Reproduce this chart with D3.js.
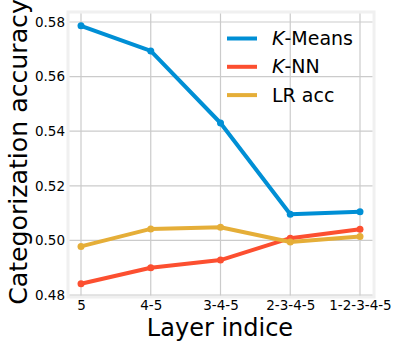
<!DOCTYPE html>
<html><head><meta charset="utf-8">
<script src="https://cdn.jsdelivr.net/npm/d3@7"></script>
<style>body{margin:0;background:#fff}svg{display:block;font-family:"DejaVu Sans",sans-serif}</style>
</head><body><svg id="c" width="398" height="348"></svg>
<script>
const categories = ["5","4-5","3-4-5","2-3-4-5","1-2-3-4-5"];
const kmeans = [0.5786,0.5694,0.5430,0.5096,0.5105];
const knn = [0.4841,0.4900,0.4928,0.5008,0.5041];
const lracc = [0.4978,0.5042,0.5048,0.4994,0.5014];
const yTicks = [0.48,0.50,0.52,0.54,0.56,0.58];
const seriesNames = ["K-Means","K-NN","LR acc"];
const colors = ["#008fd5","#fc4f30","#e5ae38"];

const svg = d3.select("#c");
const L=68, R=374, T=12, B=297;
const x = d3.scalePoint().domain(categories).range([81,360]);
const y = d3.scaleLinear().domain([0.48,0.58]).range([295,22]);

svg.append("rect").attr("x",L).attr("y",T).attr("width",R-L).attr("height",B-T)
  .attr("fill","#fff").attr("stroke","#f0f0f0").attr("stroke-width",3);

// grid
const g = svg.append("g");
g.selectAll(".gy").data(yTicks).join("line").attr("x1",L+1.5).attr("x2",R-1.5)
  .attr("y1",d=>y(d)).attr("y2",d=>y(d)).attr("stroke","#cbcbcb").attr("stroke-width",1.2);
g.selectAll(".gx").data(categories).join("line").attr("y1",T+1.5).attr("y2",B-1.5)
  .attr("x1",d=>x(d)).attr("x2",d=>x(d)).attr("stroke","#cbcbcb").attr("stroke-width",1.2);

// axes
const ya = svg.append("g").attr("transform",`translate(${L-3},0)`)
  .call(d3.axisLeft(y).tickValues(yTicks).tickFormat(d3.format(".2f")).tickSize(0).tickPadding(0));
ya.select(".domain").remove();
ya.selectAll("text").attr("font-size",13.5).attr("fill","#000").attr("font-family","DejaVu Sans");
const xa = svg.append("g").attr("transform",`translate(0,${B+1})`)
  .call(d3.axisBottom(x).tickSize(0).tickPadding(0));
xa.select(".domain").remove();
xa.selectAll("text").attr("font-size",13.5).attr("fill","#000").attr("dy","0.9em").attr("font-family","DejaVu Sans");

// lines
const data = [kmeans,knn,lracc];
const line = d3.line().x((d,i)=>x(categories[i])).y(d=>y(d));
data.forEach((s,k)=>{
  svg.append("path").attr("d",line(s)).attr("fill","none").attr("stroke",colors[k])
    .attr("stroke-width",4).attr("stroke-linejoin","round");
  svg.selectAll(null).data(s).join("circle").attr("cx",(d,i)=>x(categories[i])).attr("cy",d=>y(d))
    .attr("r",3.5).attr("fill",colors[k]);
});

// legend
const leg = svg.append("g");
seriesNames.forEach((n,k)=>{
  const yy = 38.5 + k*28.3;
  leg.append("line").attr("x1",227).attr("x2",257).attr("y1",yy).attr("y2",yy)
    .attr("stroke",colors[k]).attr("stroke-width",4);
  const t = leg.append("text").attr("x",272).attr("y",yy).attr("dy","0.35em").attr("font-size",19).attr("fill","#000");
  if(n.startsWith("K-")){
    t.append("tspan").attr("font-style","italic").text("K");
    t.append("tspan").text(n.slice(1));
  } else t.text(n);
});

// titles
svg.append("text").attr("x",220).attr("y",336).attr("text-anchor","middle").attr("font-size",24).attr("fill","#000").text("Layer indice");
svg.append("text").attr("transform","translate(27,152) rotate(-90)").attr("text-anchor","middle").attr("font-size",25.2).attr("fill","#000").text("Categorization accuracy");
</script></body></html>
